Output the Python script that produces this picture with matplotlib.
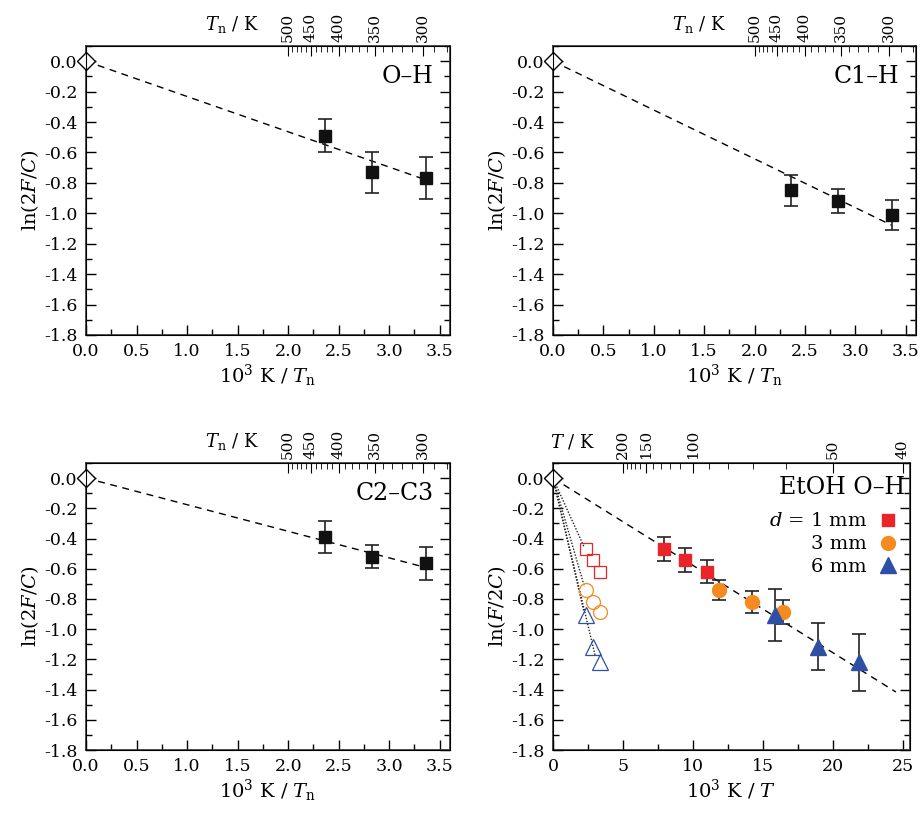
import numpy as np
import matplotlib
matplotlib.use("Agg")
import matplotlib.pyplot as plt
from matplotlib.ticker import MultipleLocator, FormatStrFormatter
from matplotlib.lines import Line2D

plt.rcParams['font.family'] = 'DejaVu Serif'
plt.rcParams['mathtext.fontset'] = 'dejavuserif'
plt.rcParams['axes.unicode_minus'] = False

# ---- data ----
x_n = [2.36, 2.83, 3.36]            # 10^3 K / T_n

oh_y = [-0.49, -0.73, -0.77]
oh_err = [0.11, 0.135, 0.137]
oh_slope = -0.232

c1_y = [-0.85, -0.92, -1.01]
c1_err = [0.10, 0.077, 0.097]
c1_slope = -0.321

c23_y = [-0.39, -0.52, -0.565]
c23_err = [0.108, 0.077, 0.112]
c23_slope = -0.176

d1_x = [7.93, 9.45, 10.98]
d1_y = [-0.47, -0.54, -0.62]
d1_err = [0.08, 0.08, 0.075]
d3_x = [11.88, 14.24, 16.43]
d3_y = [-0.74, -0.82, -0.885]
d3_err = [0.068, 0.072, 0.078]
d6_x = [15.86, 18.95, 21.86]
d6_y = [-0.905, -1.115, -1.22]
d6_err = [0.17, 0.155, 0.19]
etoh_slope = -0.0578
etoh_xend = 24.5

dot_slopes = [-0.205, -0.32, -0.40, -0.39]
dot_xend = [2.2, 2.25, 2.2, 3.0]

tn_major = [500, 450, 400, 350, 300]
tn_minor = list(range(280, 510, 10))
t_major = [200, 150, 100, 50, 40]
t_minor = list(range(40, 210, 10))

red, orange, blue = '#e8262a', '#f58a1f', '#2e4fa3'

fig = plt.figure(figsize=(9.21, 8.14), dpi=100)

def style_axes(ax, xmax, xmaj, xmin_, xfmt, tmaj, tmin, tlabel, tlabel_x):
    ax.set_ylim(-1.8, 0.1)
    ax.set_xlim(0, xmax)
    ax.yaxis.set_major_locator(MultipleLocator(0.2))
    ax.yaxis.set_minor_locator(MultipleLocator(0.1))
    ax.yaxis.set_major_formatter(FormatStrFormatter('%.1f'))
    ax.xaxis.set_major_locator(MultipleLocator(xmaj))
    ax.xaxis.set_minor_locator(MultipleLocator(xmin_))
    ax.xaxis.set_major_formatter(FormatStrFormatter(xfmt))
    ax.tick_params(which='both', direction='in', right=True, top=False,
                   labelsize=12.5, width=1.0)
    ax.tick_params(which='major', length=7, pad=6)
    ax.tick_params(which='minor', length=4)
    for s in ax.spines.values():
        s.set_linewidth(1.2)
        s.set_color('#333333')
    # top axis in temperature
    tw = ax.twiny()
    tw.set_xlim(ax.get_xlim())
    tw.set_xticks([1000.0 / t for t in tmaj])
    tw.set_xticklabels([str(t) for t in tmaj], rotation=90, fontsize=11)
    tw.set_xticks([1000.0 / t for t in tmin if t not in tmaj], minor=True)
    tw.tick_params(which='both', direction='in', pad=3)
    tw.tick_params(which='major', length=7)
    tw.tick_params(which='minor', length=4)
    ax.text(tlabel_x, 1.055, tlabel, transform=ax.transAxes, ha='right',
            va='baseline', fontsize=13)
    ax.plot([0], [0], 'D', ms=9, mfc='white', mec='black', mew=1.0,
            clip_on=False, zorder=5)


def small_panel(rect, y, err, slope, name, ylabel=r'ln(2$F$/$C$)'):
    ax = fig.add_axes(rect)
    style_axes(ax, 3.6, 0.5, 0.25, '%.1f', tn_major, tn_minor,
               r'$T_\mathrm{n}$ / K', 0.475)
    xs = np.array([0, x_n[-1]])
    ax.plot(xs, slope * xs, color='black', lw=1.0, ls=(0, (5, 4)))
    ax.errorbar(x_n, y, yerr=err, fmt='s', color='#111111', ms=9,
                ecolor='#222222', elinewidth=1.2, capsize=5, capthick=1.2)
    ax.text(0.955, 0.893, name, transform=ax.transAxes, ha='right',
            va='center', fontsize=17)
    ax.set_ylabel(ylabel, fontsize=14, labelpad=2)
    ax.set_xlabel(r'10$^3$ K / $T_\mathrm{n}$', fontsize=14, labelpad=2)
    return ax


small_panel([0.0934, 0.5885, 0.395, 0.355], oh_y, oh_err, oh_slope, 'O–H')
small_panel([0.6004, 0.5885, 0.394, 0.355], c1_y, c1_err, c1_slope, 'C1–H')
small_panel([0.0934, 0.0786, 0.395, 0.3526], c23_y, c23_err, c23_slope, 'C2–C3')

# ---- EtOH panel ----
ax = fig.add_axes([0.6004, 0.0786, 0.3876, 0.3526])
style_axes(ax, 25.5, 5, 2.5, '%d', t_major, t_minor, r'$T$ / K', 0.118)

xs = np.array([0, etoh_xend])
ax.plot(xs, etoh_slope * xs, color='black', lw=1.0, ls=(0, (5, 4)))
for s, xe in zip(dot_slopes, dot_xend):
    xd = np.array([0, xe])
    ax.plot(xd, s * xd, color='#222222', lw=1.0, ls=(0, (1, 1.2)))

# open markers at normal temperature
ax.plot(x_n, d1_y, 's', ms=9, mfc='none', mec=red, mew=0.9)
ax.plot(x_n, d3_y, 'o', ms=10, mfc='none', mec=orange, mew=0.9)
ax.plot(x_n, d6_y, '^', ms=11, mfc='none', mec=blue, mew=0.9)

ax.errorbar(d1_x, d1_y, yerr=d1_err, fmt='s', color=red, ms=9,
            ecolor='#222222', elinewidth=1.2, capsize=5, capthick=1.2)
ax.errorbar(d3_x, d3_y, yerr=d3_err, fmt='o', color=orange, ms=10,
            ecolor='#222222', elinewidth=1.2, capsize=5, capthick=1.2)
ax.errorbar(d6_x, d6_y, yerr=d6_err, fmt='^', color=blue, ms=12,
            ecolor='#222222', elinewidth=1.2, capsize=5, capthick=1.2)

ax.text(0.985, 0.916, 'EtOH O–H', transform=ax.transAxes, ha='right',
        va='center', fontsize=17)
handles = [Line2D([], [], ls='none', marker='s', ms=9, color=red),
           Line2D([], [], ls='none', marker='o', ms=10, color=orange),
           Line2D([], [], ls='none', marker='^', ms=11, color=blue)]
ax.legend(handles, [r'$d$ = 1 mm', '3 mm', '6 mm'], loc='upper right',
          bbox_to_anchor=(1.005, 0.875), markerfirst=False, frameon=False,
          fontsize=14, handlelength=1.0, handletextpad=0.6,
          labelspacing=0.25, borderpad=0.2)
ax.set_ylabel(r'ln($F$/2$C$)', fontsize=14, labelpad=2)
ax.set_xlabel(r'10$^3$ K / $T$', fontsize=14, labelpad=2)

fig.savefig('out.png', dpi=100)
